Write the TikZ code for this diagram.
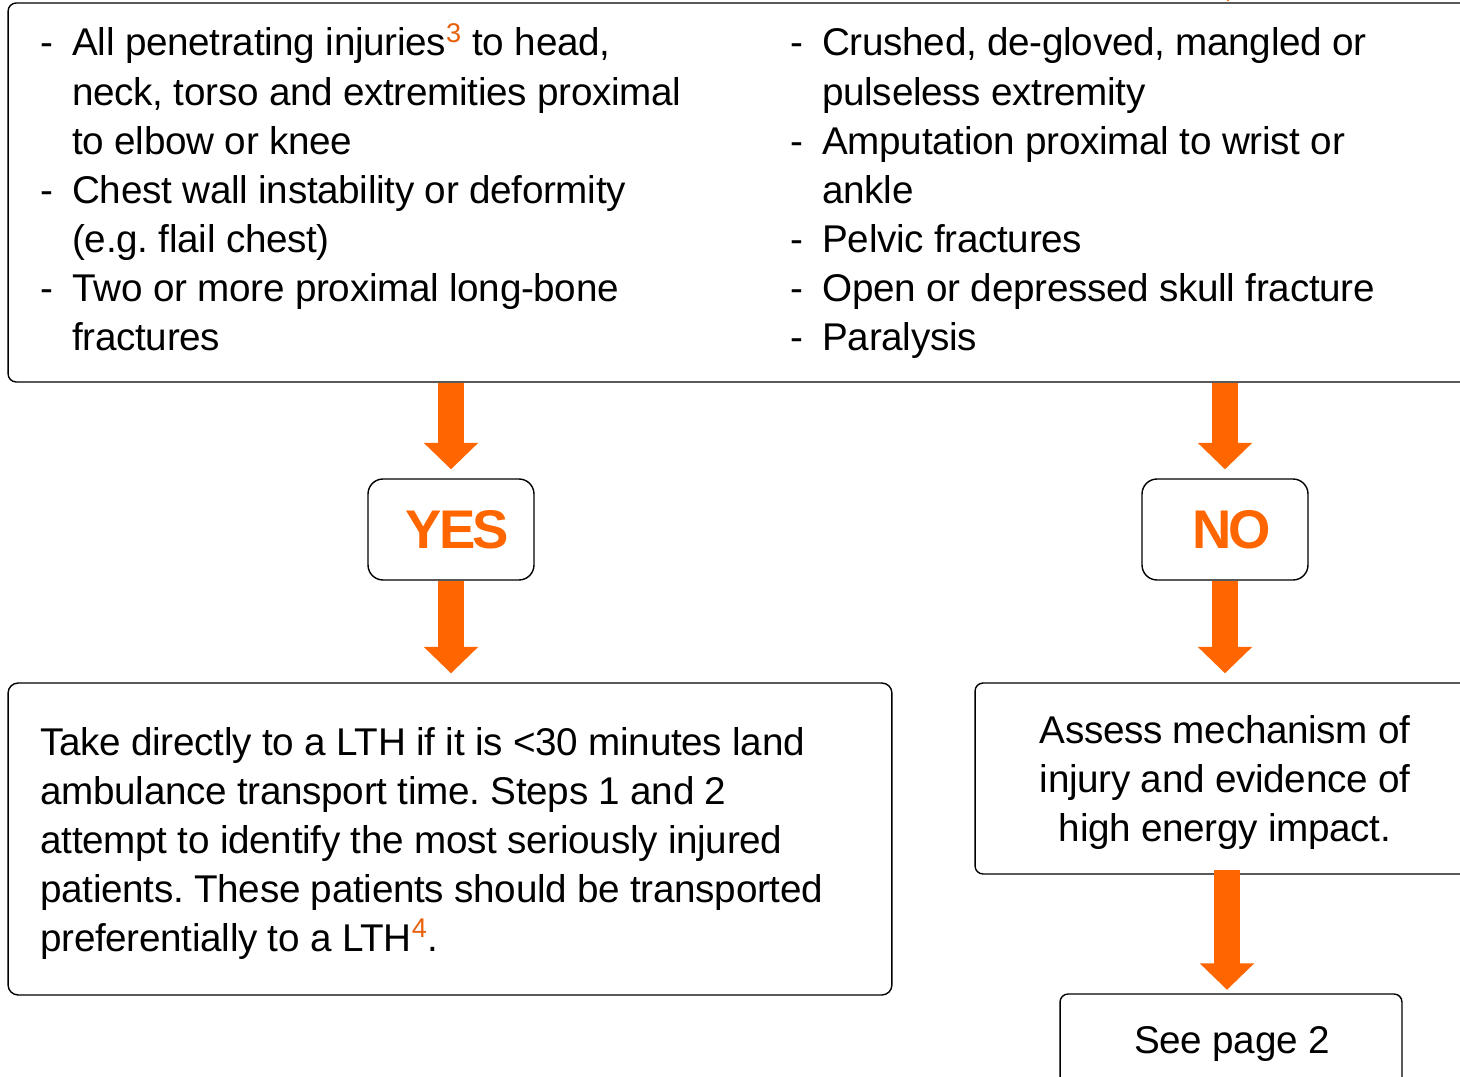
\documentclass[tikz,border=0pt]{standalone}
\usepackage{fontspec}
\setmainfont{Liberation Sans}[LetterSpace=-0.8]
\newfontfamily\answerfont{Liberation Sans}[LetterSpace=-5]
\usetikzlibrary{arrows.meta}
\definecolor{triorange}{HTML}{FF6600}
\definecolor{refcolor}{HTML}{E8600A}
\frenchspacing

\newcommand{\leftlines}[1]{\begin{tabular}[t]{@{}l@{}}#1\end{tabular}}
\newcommand{\midlines}[1]{\begin{tabular}[t]{@{}c@{}}#1\end{tabular}}
\newcommand{\dashlist}[1]{\begin{tabular}[t]{@{}p{0.64cm}@{}l@{}}#1\end{tabular}}
\newcommand{\refmark}[1]{\textsuperscript{\textcolor{refcolor}{#1}}}

\tikzset{
  flowbox/.style={draw=black, line width=0.8pt, rounded corners=0.16cm, fill=white, inner sep=0pt},
  answerbox/.style={flowbox, rounded corners=0.3cm, minimum width=3.32cm, minimum height=2.02cm,
                    font=\fontsize{31}{31}\answerfont\bfseries, text=triorange},
  bigarrow/.style={triorange, line width=0.52cm, -{Triangle[width=1.06cm,length=0.53cm]}, shorten >=0.18cm},
  plaintext/.style={inner sep=0pt},
}

\begin{document}
\begin{tikzpicture}[x=0.02cm, y=-0.02cm, font=\fontsize{22}{27.9}\selectfont]
\useasboundingbox (0,0) rectangle (1460,1077);
\clip (0,0) rectangle (1460,1077);

% Criteria box
\node[flowbox, minimum width=29.44cm, minimum height=7.58cm] (crit) at (744,192.5) {};
\node[plaintext, anchor=base west] (critleft) at (40,56) {\dashlist{
  - & All penetrating injuries\refmark{3} to head,\\
    & neck, torso and extremities proximal\\
    & to elbow or knee\\
  - & Chest wall instability or deformity\\
    & (e.g. flail chest)\\
  - & Two or more proximal long-bone\\
    & fractures}};
\node[plaintext, anchor=base west] (critright) at (790,56) {\dashlist{
  - & Crushed, de-gloved, mangled or\\
    & pulseless extremity\\
  - & Amputation proximal to wrist or\\
    & ankle\\
  - & Pelvic fractures\\
  - & Open or depressed skull fracture\\
  - & Paralysis}};
\coordinate (prev) at (1228,-100);
\draw[bigarrow, shorten >=0.02cm] (prev) -- (prev |- crit.north);

% Answers
\node[answerbox] (yes) at (451,529.5) {\hspace*{0.26cm}YES};
\node[answerbox] (no) at (1225,529.5) {\hspace*{0.26cm}NO};
\draw[bigarrow] (crit.south -| yes.north) -- (yes.north);
\draw[bigarrow] (crit.south -| no.north) -- (no.north);

% Outcomes
\node[flowbox, rounded corners=0.2cm, minimum width=17.68cm, minimum height=6.24cm] (take) at (450,839) {};
\node[plaintext, anchor=base west] (taketext) at (40,755) {\leftlines{
  Take directly to a LTH if it is <30 minutes land\\
  ambulance transport time. Steps 1 and 2\\
  attempt to identify the most seriously injured\\
  patients. These patients should be transported\\
  preferentially to a LTH\refmark{4}.}};
\node[flowbox, minimum width=10.08cm, minimum height=3.82cm] (assess) at (1227,778.5) {};
\node[plaintext, anchor=base] (assesstext) at (1225,743) {\midlines{
  Assess mechanism of\\
  injury and evidence of\\
  high energy impact.}};
\node[flowbox, minimum width=6.84cm, minimum height=1.92cm] (see) at (1231,1042) {};
\node[plaintext, anchor=base] (seetext) at (1232,1053) {See page 2};

\draw[bigarrow] (yes.south) -- (yes.south |- take.north);
\draw[bigarrow] (no.south) -- (no.south |- assess.north);
\draw[bigarrow, shorten >=0.07cm] ([yshift=0.1cm]assess.south) -- (assess.south |- see.north);
\end{tikzpicture}
\end{document}
